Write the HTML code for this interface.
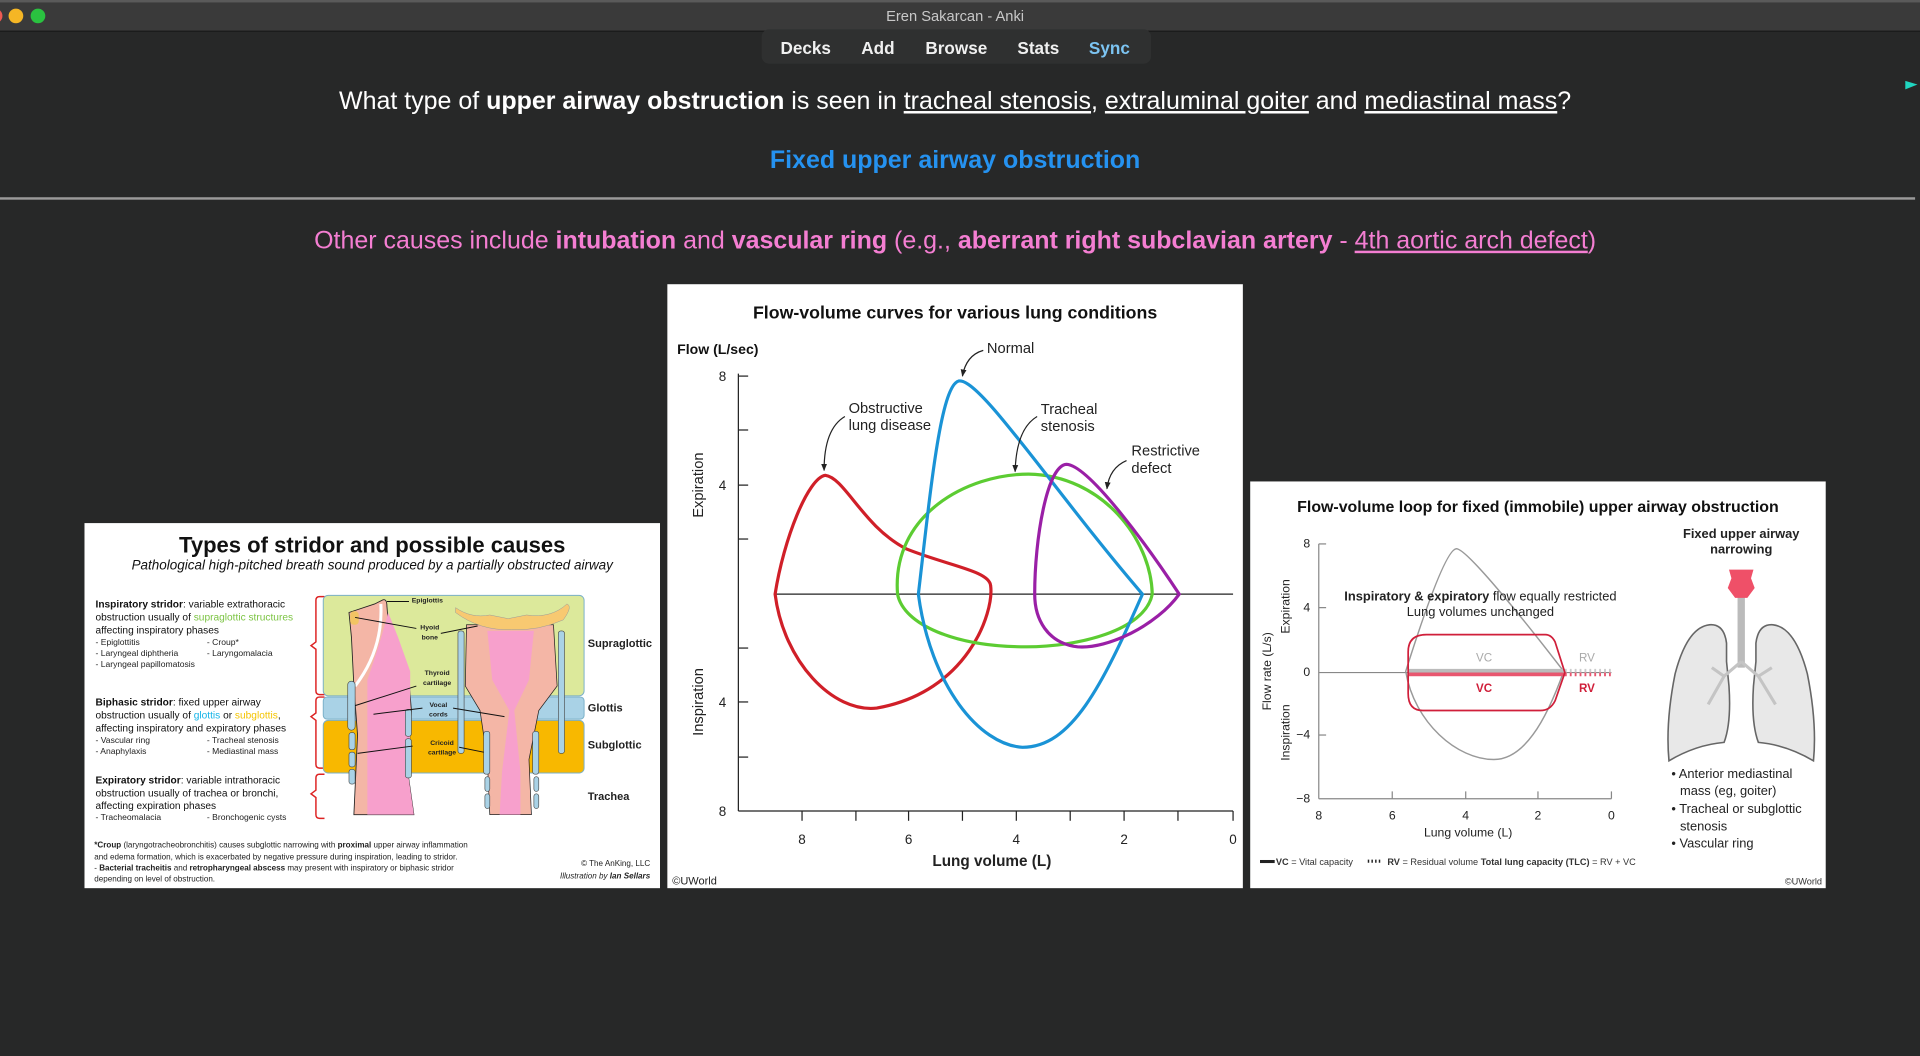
<!DOCTYPE html>
<html><head><meta charset="utf-8"><style>
html,body{margin:0;padding:0;background:#272828;width:1920px;height:1056px;overflow:hidden}
svg{display:block}
text{font-family:"Liberation Sans",Arial,sans-serif}
</style></head><body>
<svg width="1920" height="1056" viewBox="0 0 1568 862" preserveAspectRatio="none" xmlns="http://www.w3.org/2000/svg">
<defs>
<marker id="ah" viewBox="0 0 10 10" refX="9" refY="5" markerWidth="6" markerHeight="6" orient="auto"><path d="M0,1 L10,5 L0,9 Z" fill="#222"/></marker>
</defs>
<rect width="1568" height="862" fill="#272828"/>
<rect width="1568" height="25" fill="#3a3a3a"/>
<rect y="0" width="1568" height="2" fill="#5a5a5a"/>
<line x1="0" y1="25.5" x2="1568" y2="25.5" stroke="#1a1a1a"/>
<circle cx="-4" cy="13" r="6" fill="#ee5a52"/>
<circle cx="13" cy="13" r="6" fill="#f5b625"/>
<circle cx="31" cy="13" r="6" fill="#2ac240"/>
<text x="780" y="17" font-size="12" fill="#c8c8c8" text-anchor="middle">Eren Sakarcan - Anki</text>
<rect x="622" y="24" width="318" height="28" rx="6" fill="#2f3030"/>
<g font-size="14" font-weight="bold" fill="#f0f0f0" text-anchor="middle">
<text x="658" y="44">Decks</text><text x="717" y="44">Add</text><text x="781" y="44">Browse</text><text x="848" y="44">Stats</text><text x="906" y="44" fill="#7cc4f2">Sync</text>
</g>
<path d="M1556,66 l10,3 l-10,4 z" fill="#20d6c0"/>
<text x="780" y="89" font-size="20.4" fill="#fff" text-anchor="middle">What type of <tspan font-weight="bold">upper airway obstruction</tspan> is seen in <tspan text-decoration="underline">tracheal stenosis</tspan>, <tspan text-decoration="underline">extraluminal goiter</tspan> and <tspan text-decoration="underline">mediastinal mass</tspan>?</text>
<text x="780" y="137" font-size="20.4" font-weight="bold" fill="#2592f0" text-anchor="middle">Fixed upper airway obstruction</text>
<rect x="0" y="161" width="1564" height="2" fill="#9a9a9a"/>
<text x="780" y="203" font-size="20.4" fill="#f47ed2" text-anchor="middle">Other causes include <tspan font-weight="bold">intubation</tspan> and <tspan font-weight="bold">vascular ring</tspan> (e.g., <tspan font-weight="bold">aberrant right subclavian artery</tspan> - <tspan text-decoration="underline">4th aortic arch defect</tspan>)</text>

<!-- LEFT IMAGE -->
<rect x="69" y="427" width="470" height="298" fill="#fff"/>
<text x="304" y="451" font-size="18" font-weight="bold" fill="#111" text-anchor="middle">Types of stridor and possible causes</text>
<text x="304" y="465" font-size="11" font-style="italic" fill="#111" text-anchor="middle">Pathological high-pitched breath sound produced by a partially obstructed airway</text>
<g font-size="8.3" fill="#111">
<text x="78" y="496"><tspan font-weight="bold">Inspiratory stridor</tspan>: variable extrathoracic</text>
<text x="78" y="506.5">obstruction usually of <tspan fill="#7cc443">supraglottic structures</tspan></text>
<text x="78" y="517">affecting inspiratory phases</text>
<text x="78" y="576"><tspan font-weight="bold">Biphasic stridor</tspan>: fixed upper airway</text>
<text x="78" y="586.5">obstruction usually of <tspan fill="#14b4e8">glottis</tspan> or <tspan fill="#f4c400">subglottis</tspan>,</text>
<text x="78" y="597">affecting inspiratory and expiratory phases</text>
<text x="78" y="639.5"><tspan font-weight="bold">Expiratory stridor</tspan>: variable intrathoracic</text>
<text x="78" y="650">obstruction usually of trachea or bronchi,</text>
<text x="78" y="660.5">affecting expiration phases</text>
</g>
<g font-size="7" fill="#222">
<text x="78" y="526.5">- Epiglottitis</text><text x="169" y="526.5">- Croup*</text>
<text x="78" y="535.5">- Laryngeal diphtheria</text><text x="169" y="535.5">- Laryngomalacia</text>
<text x="78" y="544.5">- Laryngeal papillomatosis</text>
<text x="78" y="606.5">- Vascular ring</text><text x="169" y="606.5">- Tracheal stenosis</text>
<text x="78" y="615.5">- Anaphylaxis</text><text x="169" y="615.5">- Mediastinal mass</text>
<text x="78" y="669.5">- Tracheomalacia</text><text x="169" y="669.5">- Bronchogenic cysts</text>
</g>
<g font-size="6.6" fill="#222">
<text x="77" y="692"><tspan font-weight="bold">*Croup</tspan> (laryngotracheobronchitis) causes subglottic narrowing with <tspan font-weight="bold">proximal</tspan> upper airway inflammation</text>
<text x="77" y="701.5">and edema formation, which is exacerbated by negative pressure during inspiration, leading to stridor.</text>
<text x="77" y="710.5">- <tspan font-weight="bold">Bacterial tracheitis</tspan> and <tspan font-weight="bold">retropharyngeal abscess</tspan> may present with inspiratory or biphasic stridor</text>
<text x="77" y="719.5">depending on level of obstruction.</text>
<text x="531" y="707" text-anchor="end">© The AnKing, LLC</text>
<text x="531" y="717" text-anchor="end" font-style="italic">Illustration by <tspan font-weight="bold">Ian Sellars</tspan></text>
</g>
<g fill="none" stroke="#d22" stroke-width="1.2">
<path d="M265,487 h-4 q-3,0 -3,3 v34 l-4,3 l4,3 v34 q0,3 3,3 h4"/>
<path d="M265,569 h-4 q-3,0 -3,3 v10 l-4,3 l4,3 v36 q0,3 3,3 h4"/>
<path d="M265,632 h-4 q-3,0 -3,3 v10 l-4,3 l4,3 v14 q0,3 3,3 h4"/>
</g>
<rect x="264" y="486" width="213" height="82" rx="4" fill="#dce99b" stroke="#7ab0c8" stroke-width="0.8"/>
<rect x="264" y="569" width="213" height="18" rx="3" fill="#a9d2e6" stroke="#7ab0c8" stroke-width="0.8"/>
<rect x="264" y="588" width="213" height="43" rx="4" fill="#f8b800" stroke="#7ab0c8" stroke-width="0.8"/>
<path d="M285,500 L306,493 L312,490 Q316,488 316,495 L318,520 L333,545 L336,580 L333,630 L338,665 L289,665 L292,600 L289,560 L287,520 Z" fill="#f4b6a6" stroke="#222" stroke-width="0.7"/>
<path d="M300,555 Q312,520 317,500 L325,520 L335,548 L335,600 L333,630 L338,665 L300,665 Z" fill="#f7a0cc"/>
<path d="M311,493 Q313,530 290,560" stroke="#fff" stroke-width="2.5" fill="none"/>
<rect x="286" y="499" width="7" height="11" rx="3" fill="#f2c463"/>
<g fill="#a9d2e6" stroke="#444" stroke-width="0.5">
<rect x="284" y="556" width="6" height="40" rx="3"/><rect x="285" y="598" width="5" height="14" rx="2"/><rect x="285" y="614" width="5" height="12" rx="2"/><rect x="285" y="628" width="5" height="12" rx="2"/>
<rect x="331" y="579" width="5" height="22" rx="2"/><rect x="331" y="603" width="5" height="32" rx="2"/>
</g>
<path d="M381,510 L452,510 L455,560 L440,580 L432,620 L434,665 L400,665 L398,620 L392,580 L380,560 Z" fill="#f4b6a6" stroke="#222" stroke-width="0.6"/>
<path d="M398,515 L436,515 L432,555 L420,580 L425,630 L425,665 L408,665 L410,630 L416,580 L402,555 Z" fill="#f7a0cc"/>
<path d="M372,496 Q385,505 400,502 L415,505 L430,502 Q450,505 463,493 Q468,495 460,506 Q440,515 418,514 Q392,515 372,500 Z" fill="#f8c971" stroke="#999" stroke-width="0.4"/>
<g fill="#a9d2e6" stroke="#444" stroke-width="0.5">
<rect x="374" y="515" width="5" height="100" rx="2"/><rect x="456" y="515" width="5" height="100" rx="2"/>
<rect x="395" y="597" width="5" height="35" rx="2"/><rect x="435" y="597" width="5" height="35" rx="2"/>
<rect x="396" y="634" width="4" height="12" rx="2"/><rect x="436" y="634" width="4" height="12" rx="2"/>
<rect x="396" y="648" width="4" height="12" rx="2"/><rect x="436" y="648" width="4" height="12" rx="2"/>
</g>
<g stroke="#111" stroke-width="0.8" fill="none">
<line x1="316" y1="491" x2="334" y2="491"/><line x1="290" y1="504" x2="340" y2="513"/><line x1="360" y1="517" x2="390" y2="511"/>
<line x1="290" y1="576" x2="340" y2="560"/><line x1="305" y1="583" x2="345" y2="578"/><line x1="370" y1="578" x2="412" y2="585"/>
<line x1="292" y1="615" x2="337" y2="609"/><line x1="375" y1="610" x2="395" y2="614"/>
</g>
<g font-size="5.6" font-weight="bold" fill="#222" text-anchor="middle">
<text x="349" y="492">Epiglottis</text><text x="351" y="514">Hyoid</text><text x="351" y="522">bone</text>
<text x="357" y="551">Thyroid</text><text x="357" y="559">cartilage</text>
<text x="358" y="577">Vocal</text><text x="358" y="585">cords</text>
<text x="361" y="608">Cricoid</text><text x="361" y="616">cartilage</text>
</g>
<g font-size="9" font-weight="bold" fill="#222">
<text x="480" y="528">Supraglottic</text><text x="480" y="581">Glottis</text><text x="480" y="611">Subglottic</text><text x="480" y="653">Trachea</text>
</g>

<!-- MIDDLE IMAGE -->
<rect x="545" y="232" width="470" height="493" fill="#fff"/>
<text x="780" y="260" font-size="14.5" font-weight="bold" fill="#111" text-anchor="middle">Flow-volume curves for various lung conditions</text>
<text x="553" y="289" font-size="11.5" font-weight="bold" fill="#111">Flow (L/sec)</text>
<g stroke="#222" stroke-width="1" fill="none">
<line x1="603" y1="305" x2="603" y2="662"/><line x1="603" y1="662" x2="1007" y2="662"/>
<line x1="632" y1="485" x2="1007" y2="485"/>
<line x1="603" y1="307" x2="611" y2="307"/><line x1="603" y1="351" x2="611" y2="351"/><line x1="603" y1="396" x2="611" y2="396"/><line x1="603" y1="440" x2="611" y2="440"/>
<line x1="603" y1="529" x2="611" y2="529"/><line x1="603" y1="573" x2="611" y2="573"/><line x1="603" y1="618" x2="611" y2="618"/>
<line x1="655" y1="662" x2="655" y2="670"/><line x1="699" y1="662" x2="699" y2="670"/><line x1="742" y1="662" x2="742" y2="670"/><line x1="786" y1="662" x2="786" y2="670"/><line x1="830" y1="662" x2="830" y2="670"/><line x1="874" y1="662" x2="874" y2="670"/><line x1="918" y1="662" x2="918" y2="670"/><line x1="962" y1="662" x2="962" y2="670"/><line x1="1007" y1="662" x2="1007" y2="670"/>
</g>
<g font-size="11" fill="#222" text-anchor="middle">
<text x="590" y="311">8</text><text x="590" y="400">4</text><text x="590" y="577">4</text><text x="590" y="666">8</text>
<text x="655" y="689">8</text><text x="742" y="689">6</text><text x="830" y="689">4</text><text x="918" y="689">2</text><text x="1007" y="689">0</text>
</g>
<text transform="translate(574,396) rotate(-90)" font-size="12" fill="#222" text-anchor="middle">Expiration</text>
<text transform="translate(574,573) rotate(-90)" font-size="12" fill="#222" text-anchor="middle">Inspiration</text>
<text x="810" y="707" font-size="12.5" font-weight="bold" fill="#222" text-anchor="middle">Lung volume (L)</text>
<text x="549" y="722" font-size="9" fill="#222">©UWorld</text>
<g fill="none" stroke-width="2.6">
<path d="M633,485 C640,440 660,390 674,388 C690,390 705,430 740,448 C775,462 808,466 809,478 C812,500 790,565 716,578 C680,582 640,540 633,485 Z" stroke="#d01f28"/>
<path d="M733,485 C728,420 790,387 840,387 C900,388 940,440 941,485 C935,515 880,528 838,528 C780,528 738,510 733,485 Z" stroke="#5ccc32"/>
<path d="M750,485 C760,400 768,315 783,311 C800,308 860,400 933,485 C900,560 875,610 835,610 C800,608 760,560 750,485 Z" stroke="#1a93d6"/>
<path d="M845,485 C845,440 855,380 871,379 C890,380 940,450 963,485 C945,510 905,530 880,528 C855,525 845,505 845,485 Z" stroke="#9a1fa6"/>
</g>
<g fill="none" stroke="#222" stroke-width="1" marker-end="url(#ah)">
<path d="M803,286 Q789,290 786,307"/><path d="M690,340 Q673,350 673,384"/><path d="M847,340 Q830,350 829,385"/><path d="M920,376 Q906,382 904,399"/>
</g>
<g font-size="12" fill="#222">
<text x="806" y="288">Normal</text>
<text x="693" y="337">Obstructive</text><text x="693" y="351">lung disease</text>
<text x="850" y="338">Tracheal</text><text x="850" y="352">stenosis</text>
<text x="924" y="372">Restrictive</text><text x="924" y="386">defect</text>
</g>

<!-- RIGHT IMAGE -->
<rect x="1021" y="393" width="470" height="332" fill="#fff"/>
<text x="1256" y="418" font-size="13" font-weight="bold" fill="#111" text-anchor="middle">Flow-volume loop for fixed (immobile) upper airway obstruction</text>
<g stroke="#888" stroke-width="1" fill="none">
<line x1="1077" y1="444" x2="1077" y2="652"/><line x1="1077" y1="652" x2="1316" y2="652"/>
<line x1="1077" y1="549" x2="1316" y2="549"/>
<line x1="1077" y1="444" x2="1083" y2="444"/><line x1="1077" y1="496" x2="1083" y2="496"/><line x1="1077" y1="600" x2="1083" y2="600"/>
<line x1="1137" y1="646" x2="1137" y2="652"/><line x1="1197" y1="646" x2="1197" y2="652"/><line x1="1256" y1="646" x2="1256" y2="652"/><line x1="1316" y1="646" x2="1316" y2="652"/>
</g>
<g font-size="10" fill="#222">
<text x="1070" y="447" text-anchor="end">8</text><text x="1070" y="499" text-anchor="end">4</text><text x="1070" y="552" text-anchor="end">0</text><text x="1070" y="603" text-anchor="end">−4</text><text x="1070" y="655" text-anchor="end">−8</text>
<text x="1077" y="669" text-anchor="middle">8</text><text x="1137" y="669" text-anchor="middle">6</text><text x="1197" y="669" text-anchor="middle">4</text><text x="1256" y="669" text-anchor="middle">2</text><text x="1316" y="669" text-anchor="middle">0</text>
<text x="1199" y="683" text-anchor="middle">Lung volume (L)</text>
</g>
<text transform="translate(1038,548) rotate(-90)" font-size="10" fill="#222" text-anchor="middle">Flow rate (L/s)</text>
<text transform="translate(1053,495) rotate(-90)" font-size="10" fill="#222" text-anchor="middle">Expiration</text>
<text transform="translate(1053,598) rotate(-90)" font-size="10" fill="#222" text-anchor="middle">Inspiration</text>
<path d="M1148,548 C1160,510 1180,450 1189,448 C1196,446 1240,500 1277,548 C1262,590 1244,620 1220,620 C1190,620 1155,590 1148,548 Z" fill="none" stroke="#999" stroke-width="1.2"/>
<rect x="1150" y="546" width="128" height="3" fill="#bbb"/>
<rect x="1150" y="549" width="128" height="3" fill="#e8566f"/>
<line x1="1278" y1="547.5" x2="1316" y2="547.5" stroke="#ccc" stroke-width="3" stroke-dasharray="1.5,2.5"/>
<line x1="1278" y1="550.5" x2="1316" y2="550.5" stroke="#e8566f" stroke-width="3" stroke-dasharray="1.5,2.5"/>
<path d="M1165,518 L1262,518 Q1267,518 1270,524 L1278,549 L1270,572 Q1266,580 1258,580 L1162,580 Q1150,580 1150,566 L1150,532 Q1150,518 1165,518 Z" fill="none" stroke="#d01f3a" stroke-width="1.4"/>
<g font-size="9.5" text-anchor="middle">
<text x="1212" y="540" fill="#aaa">VC</text><text x="1296" y="540" fill="#aaa">RV</text>
<text x="1212" y="565" fill="#d01f3a" font-weight="bold">VC</text><text x="1296" y="565" fill="#d01f3a" font-weight="bold">RV</text>
</g>
<text x="1209" y="490" font-size="10.5" fill="#222" text-anchor="middle"><tspan font-weight="bold">Inspiratory &amp; expiratory</tspan> flow equally restricted</text>
<text x="1209" y="503" font-size="10.5" fill="#222" text-anchor="middle">Lung volumes unchanged</text>
<text x="1422" y="439" font-size="10.5" font-weight="bold" fill="#222" text-anchor="middle">Fixed upper airway</text>
<text x="1422" y="452" font-size="10.5" font-weight="bold" fill="#222" text-anchor="middle">narrowing</text>
<path d="M1410,540 L1410,525 Q1408,509 1396,510 Q1378,512 1368,550 Q1360,590 1363,621 Q1385,608 1408,606 Q1414,590 1412,560 Z" fill="#e8e8e8" stroke="#666" stroke-width="1.3"/>
<path d="M1434,540 L1434,525 Q1436,509 1448,510 Q1466,512 1476,550 Q1484,590 1481,621 Q1459,608 1436,606 Q1430,590 1432,560 Z" fill="#e8e8e8" stroke="#666" stroke-width="1.3"/>
<rect x="1419" y="480" width="6" height="65" fill="#bbb"/>
<path d="M1422,540 L1408,552 L1395,575 M1408,552 L1398,545 M1422,540 L1436,552 L1450,575 M1436,552 L1447,545" stroke="#c4c4c4" stroke-width="2.5" fill="none"/>
<path d="M1412,465 L1432,465 L1430,472 L1433,480 L1427,488 L1417,488 L1411,480 L1414,472 Z" fill="#ef5068"/>
<g font-size="10.5" fill="#222">
<text x="1365" y="635">• Anterior mediastinal</text><text x="1372" y="649">mass (eg, goiter)</text>
<text x="1365" y="663.5">• Tracheal or subglottic</text><text x="1372" y="678">stenosis</text>
<text x="1365" y="692">• Vascular ring</text>
</g>
<rect x="1029" y="702" width="12" height="2.5" fill="#222"/>
<line x1="1117" y1="703" x2="1129" y2="703" stroke="#222" stroke-width="2.5" stroke-dasharray="1.2,1.8"/>
<g font-size="7.5" fill="#333">
<text x="1042" y="706"><tspan font-weight="bold">VC</tspan> = Vital capacity</text>
<text x="1133" y="706"><tspan font-weight="bold">RV</tspan> = Residual volume  <tspan font-weight="bold">Total lung capacity (TLC)</tspan> = RV + VC</text>
<text x="1488" y="722" text-anchor="end">©UWorld</text>
</g>
</svg>
</body></html>
